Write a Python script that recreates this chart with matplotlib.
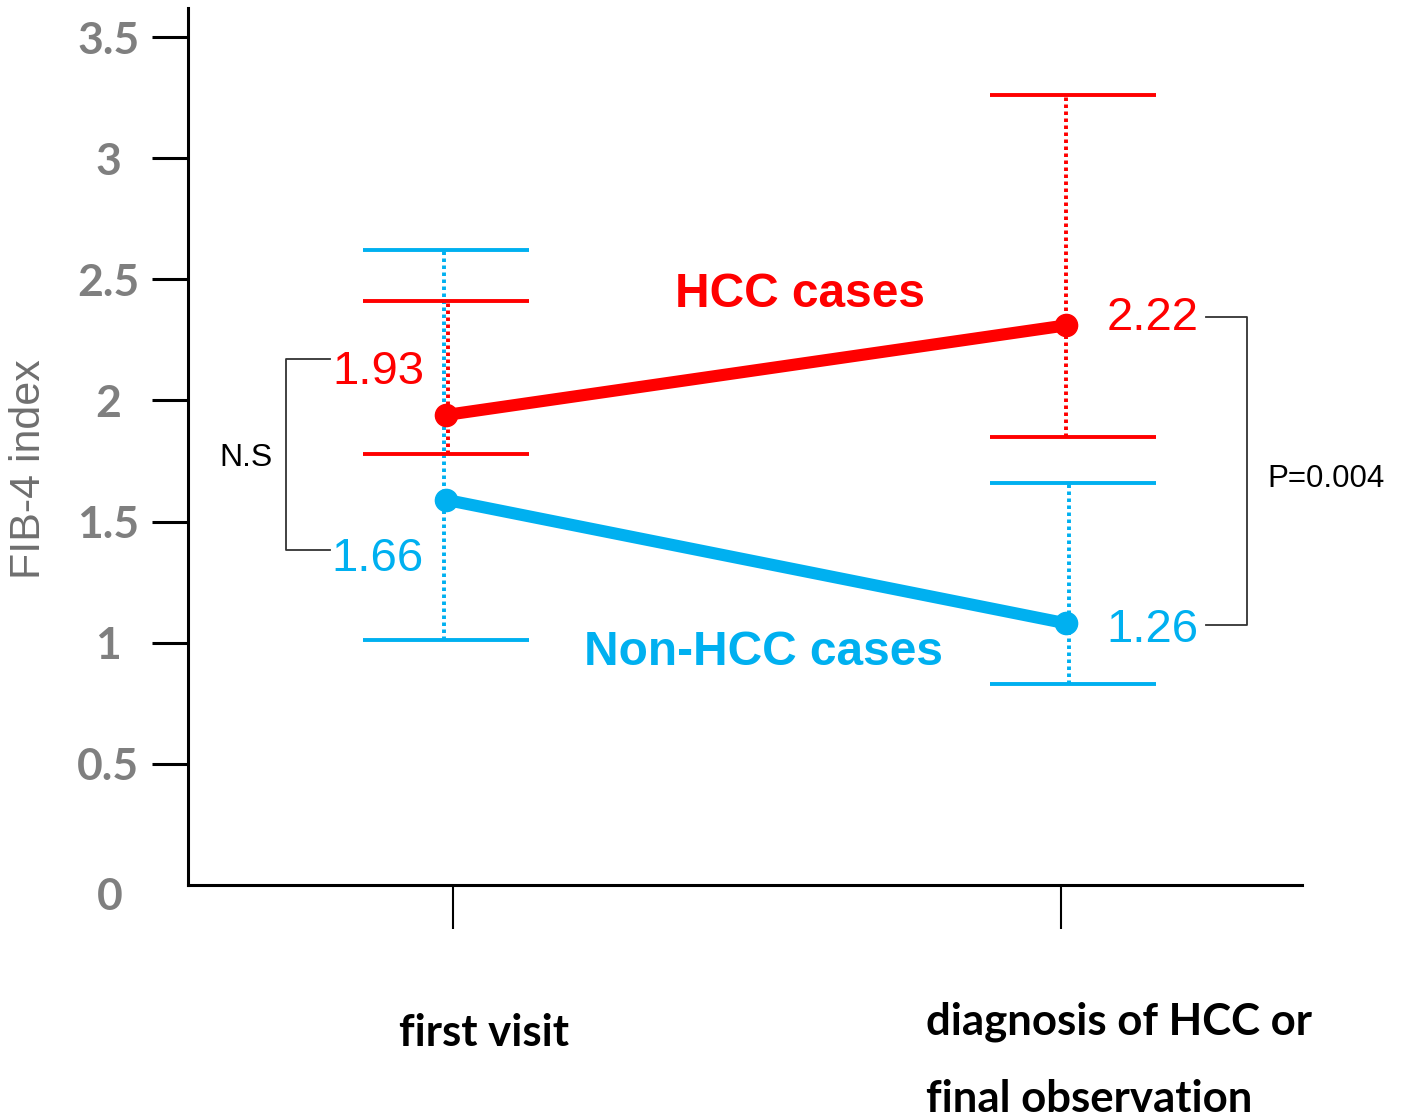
import matplotlib
matplotlib.use("Agg")
import matplotlib.pyplot as plt
from matplotlib.lines import Line2D

# ---------------- data ----------------
timepoints = ["first visit", "diagnosis of HCC or\nfinal observation"]
x_pos = [0.0, 1.0]

hcc_mean = [1.94, 2.31]
hcc_upper = [2.41, 3.26]
hcc_lower = [1.78, 1.85]
hcc_labels = ["1.93", "2.22"]

non_mean = [1.59, 1.08]
non_upper = [2.62, 1.66]
non_lower = [1.01, 0.83]
non_labels = ["1.66", "1.26"]

yticks = [0.5, 1, 1.5, 2, 2.5, 3, 3.5]
ytick_labels = ["0.5", "1", "1.5", "2", "2.5", "3", "3.5"]

# ---------------- style ----------------
RED = "#ff0000"
BLUE = "#00b0f0"
GRAY = "#7f7f7f"
W, H = 1404, 1120
DPI = 100

fig = plt.figure(figsize=(W / DPI, H / DPI), dpi=DPI)
ax = fig.add_axes([188 / W, 1 - 885 / H, (1302 - 188) / W, (885 - 8) / H])
ax.set_ylim(0, 3.62)
ax.set_xlim((188 - 446) / 620, (1302 - 446) / 620)

for s in ["top", "right"]:
    ax.spines[s].set_visible(False)
ax.spines["left"].set_linewidth(2.2)
ax.spines["bottom"].set_linewidth(2.2)

# y ticks
ax.set_yticks(yticks)
ax.set_yticklabels(ytick_labels)
ax.tick_params(axis="y", which="major", length=26, width=2.2, pad=31.5,
               labelsize=32, labelcolor=GRAY)
for lab in ax.get_yticklabels():
    lab.set_horizontalalignment("center")
    lab.set_fontfamily("Lato")
    lab.set_fontweight("bold")

# x ticks (marks only)
ax.set_xticks([0.011, 0.992])
ax.set_xticklabels(["", ""])
ax.tick_params(axis="x", length=32, width=1.5, direction="out")

cap_half = 83 / 620
cap_off = [0.0, 0.011]

def draw_err(up, lo, color, dx):
    for i, x in enumerate(x_pos):
        ax.plot([x + dx[i], x + dx[i]], [lo[i], up[i]], color=color, lw=2.8,
                linestyle=(0, (0.9, 0.9)), zorder=2)
        cx = x + cap_off[i]
        ax.plot([cx - cap_half, cx + cap_half], [up[i], up[i]], color=color,
                lw=2.8, solid_capstyle="butt", zorder=2)
        ax.plot([cx - cap_half, cx + cap_half], [lo[i], lo[i]], color=color,
                lw=2.8, solid_capstyle="butt", zorder=2)

draw_err(non_upper, non_lower, BLUE, [-0.003, 0.005])
draw_err(hcc_upper, hcc_lower, RED, [0.003, 0.0])

ax.plot(x_pos, non_mean, color=BLUE, lw=8.7, marker="o", markersize=16,
        solid_capstyle="round", zorder=4)
ax.plot(x_pos, hcc_mean, color=RED, lw=8.7, marker="o", markersize=16,
        solid_capstyle="round", zorder=5)

# ---------------- annotations (pixel layout) ----------------
def ftext(px, py, s, **kw):
    fig.text(px / W, 1 - py / H, s, **kw)

def fline(xs, ys, **kw):
    fig.add_artist(Line2D([x / W for x in xs], [1 - y / H for y in ys],
                          transform=fig.transFigure, **kw))

# zero label (no tick mark at origin)
ftext(110, 897, "0", fontsize=32, family="Lato", fontweight="bold",
      color=GRAY, ha="center", va="center")

# y axis title
ftext(29, 469, "FIB-4 index", fontsize=31, color="#6f6f6f",
      family="Liberation Sans", rotation=90, ha="center", va="center")

num_kw = dict(fontsize=34, family="Liberation Sans", va="baseline", ha="right")
ftext(424, 384, hcc_labels[0], color=RED, **num_kw)
ftext(424, 571, non_labels[0], color=BLUE, **num_kw)
ftext(1199, 330, hcc_labels[1], color=RED, **num_kw)
ftext(1199, 642, non_labels[1], color=BLUE, **num_kw)

ftext(800, 307, "HCC cases", color=RED, fontsize=34.5, fontweight="bold",
      family="Liberation Sans", ha="center", va="baseline")
ftext(764, 665, "Non-HCC cases", color=BLUE, fontsize=34.5, fontweight="bold",
      family="Liberation Sans", ha="center", va="baseline")

# N.S bracket
fline([330, 286, 286, 330], [359, 359, 550, 550], color="#333333", lw=1.3)
ftext(246, 466, "N.S", fontsize=23, family="Liberation Sans", color="black",
      ha="center", va="baseline")
# P bracket
fline([1206, 1247, 1247, 1206], [317, 317, 625, 625], color="#333333", lw=1.3)
ftext(1267, 487, "P=0.004", fontsize=22.5, family="Liberation Sans",
      color="black", ha="left", va="baseline")

# x category labels
lab_kw = dict(fontsize=31.5, fontweight="bold", family="Lato", color="black",
              va="baseline")
ftext(484, 1046, timepoints[0], ha="center", **lab_kw)
l1, l2 = timepoints[1].split("\n")
ftext(926, 1035, l1, ha="left", **lab_kw)
ftext(926, 1112, l2, ha="left", **lab_kw)

fig.savefig("out.png", dpi=DPI, facecolor="white")
